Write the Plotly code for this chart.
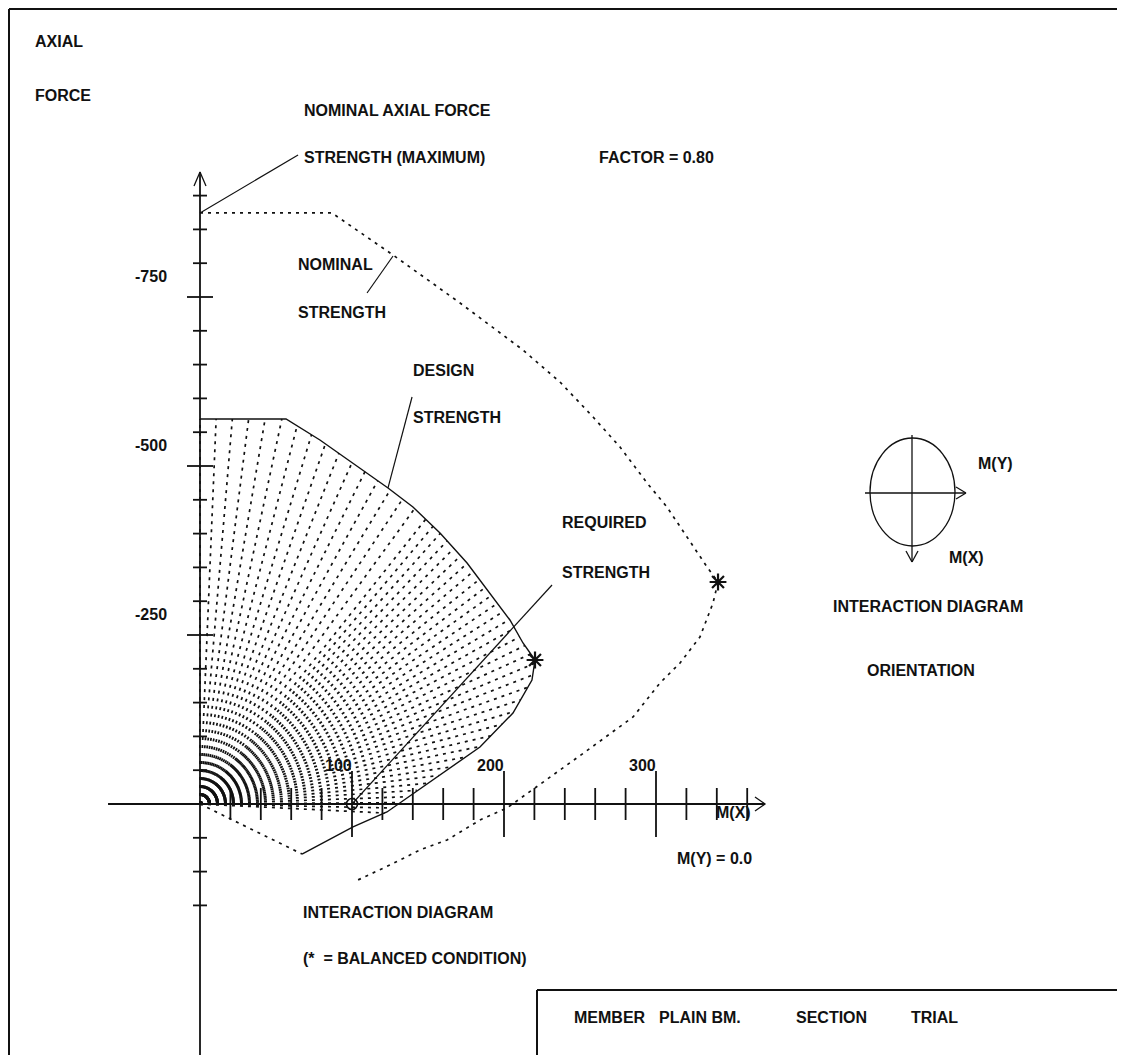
"""Column interaction diagram (axial force vs. moment) redrawn with Plotly.

The original is an old DOS-style plot: a cross of hand-drawn axes, a dotted
nominal-strength envelope, a solid design-strength envelope filled with a fan
of dashed rays, and a few leader-line labels around it.
"""

from __future__ import annotations

import numpy as np
import plotly.graph_objects as go

# Page geometry (pixels). The browser puts an 8 px body margin round the figure,
# so all page positions below are shifted by PAGE_MARGIN when drawn.
PAGE_WIDTH = 1125
PAGE_HEIGHT = 1055
PAGE_MARGIN = 8
FIG_WIDTH = PAGE_WIDTH - PAGE_MARGIN
FIG_HEIGHT = PAGE_HEIGHT - PAGE_MARGIN
ORIGIN_PX = (200, 804)  # page position of M = 0, P = 0
PX_PER_M = 1.52  # horizontal pixels per unit of moment
PX_PER_P = 0.676  # vertical pixels per unit of axial force

# Nominal strength envelope (dotted). P is negative in compression (plotted upward).
NOMINAL_M = [0.0, 86.8, 127.0, 171.1, 212.5, 236.8, 258.6, 276.3, 294.1, 307.2,
             320.4, 333.6, 340.8, 337.5, 328.9, 315.8, 302.6, 284.9, 253.3, 218.4,
             202.0, 184.2, 162.5, 144.7, 125.0, 103.9]
NOMINAL_P = [-874.3, -874.3, -812.1, -741.1, -671.6, -624.3, -572.5, -528.1, -474.9,
             -439.3, -395.0, -350.6, -328.4, -297.3, -247.0, -208.6, -179.0, -128.7,
             -76.9, -20.7, 5.9, 23.7, 53.3, 68.0, 90.2, 112.4]
NOMINAL_BALANCED_M = [340.8]
NOMINAL_BALANCED_P = [-328.4]

# Design strength envelope (solid, factor 0.80 cap on the top).
DESIGN_M = [0.0, 56.6, 78.9, 100.7, 123.7, 140.1, 157.9, 175.7, 190.8, 203.9, 212.5,
            220.4, 218.4, 205.9, 184.2, 162.5, 140.1, 123.0, 100.7, 67.1]
DESIGN_P = [-569.5, -569.5, -538.5, -504.4, -467.5, -439.3, -400.9, -356.5, -312.1,
            -272.2, -238.2, -213.0, -183.4, -134.6, -84.3, -50.3, -16.3, 11.8, 34.0,
            74.0]
DESIGN_BALANCED_M = [220.4]
DESIGN_BALANCED_P = [-213.0]

# Required strength (load point).
REQUIRED_M = [100.0]
REQUIRED_P = [0.0]

# Axis ticks.
X_TICKS = list(range(20, 361, 20))
X_MAJOR = [100, 200, 300]
X_TICK_LABELS = ["100", "200", "300"]
Y_TICKS = [v for v in range(150, -901, -50) if v != 0]
Y_MAJOR = [-250, -500, -750]
Y_TICK_LABELS = ["-250", "-500", "-750"]

# Axis extents (data units).
X_AXIS_SPAN = (-60.5, 371.7)
Y_AXIS_SPAN = (380.0, -935.0)

# Hatch fan inside the design envelope: bands of (start deg, stop deg, step deg)
# in screen angles, sparser near the vertical, plus one ray to the tension end.
RAY_BANDS = [(90.0, 50.0, 2.4), (50.0, -3.5, 1.6)]

FONT = dict(family="Arial, Liberation Sans, sans-serif", size=16, color="#111111", weight="bold")

# Free text of the drawing: (text, left px, centre y px) on the page.
LABELS = [
    ("AXIAL", 33, 42),
    ("FORCE", 33, 95),
    ("NOMINAL AXIAL FORCE", 302, 111),
    ("STRENGTH (MAXIMUM)", 302, 157),
    ("FACTOR = 0.80", 597, 157),
    ("NOMINAL", 296, 264),
    ("STRENGTH", 296, 313),
    ("DESIGN", 411, 370),
    ("STRENGTH", 411, 418),
    ("REQUIRED", 560, 522),
    ("STRENGTH", 560, 572),
    ("M(Y)", 976, 463),
    ("M(X)", 947, 557),
    ("INTERACTION DIAGRAM", 831, 606),
    ("ORIENTATION", 865, 670),
    ("M(X)", 714, 812),
    ("M(Y) = 0.0", 675, 858),
    ("INTERACTION DIAGRAM", 301, 912),
    ("(*  = BALANCED CONDITION)", 301, 958),
    ("MEMBER", 572, 1017),
    ("PLAIN BM.", 657, 1017),
    ("SECTION", 794, 1017),
    ("TRIAL", 909, 1017),
]


def _paper(x_px: float, y_px: float) -> tuple[float, float]:
    """Convert page pixels to paper fractions of the figure."""
    return (x_px - PAGE_MARGIN) / FIG_WIDTH, 1 - (y_px - PAGE_MARGIN) / FIG_HEIGHT


def _ray_hit(u: np.ndarray, v: np.ndarray, ang: float) -> float | None:
    """Distance along a ray from the origin to the first crossing of the polyline."""
    d0, d1 = np.cos(ang), np.sin(ang)
    best = None
    for i in range(len(u) - 1):
        a0, a1 = u[i], v[i]
        e0, e1 = u[i + 1] - a0, v[i + 1] - a1
        det = -d0 * e1 + e0 * d1
        if abs(det) < 1e-12:
            continue
        t = (-a0 * e1 + e0 * a1) / det
        s = (d0 * a1 - d1 * a0) / det
        if t > 0 and -1e-9 <= s <= 1 + 1e-9 and (best is None or t < best):
            best = t
    return best


def _fan_rays(m: list[float], p: list[float]) -> list[tuple[float, float]]:
    """End points of the hatch rays on the envelope, in data units."""
    u = np.asarray(m) * PX_PER_M
    v = -np.asarray(p) * PX_PER_P
    degs: list[float] = []
    for start, stop, step in RAY_BANDS:
        for d in np.arange(start, stop - 1e-9, -step):
            if not degs or abs(degs[-1] - d) > 1e-6:
                degs.append(float(d))
    angles = list(np.deg2rad(degs))
    angles.append(np.arctan2(v[-1], u[-1]))
    out = []
    for ang in angles:
        t = _ray_hit(u, v, ang)
        if t is not None:
            out.append((t * np.cos(ang) / PX_PER_M, -t * np.sin(ang) / PX_PER_P))
    return out


def _segments(pairs):
    xs, ys = [], []
    for (x0, y0), (x1, y1) in pairs:
        xs += [x0, x1, None]
        ys += [y0, y1, None]
    return xs, ys


def build_figure() -> go.Figure:
    fig = go.Figure()
    black = "#111111"

    # Fan of dashed rays filling the design envelope (each its own path so the
    # dash pattern restarts at the origin and lines up into arcs).
    for m_end, p_end in _fan_rays(DESIGN_M, DESIGN_P):
        fig.add_scatter(x=[0, m_end], y=[0, p_end], mode="lines",
                        line=dict(color=black, width=1.7, dash="3px,5px"),
                        hoverinfo="skip", showlegend=False)

    # Envelopes.
    fig.add_scatter(x=DESIGN_M, y=DESIGN_P, mode="lines",
                    line=dict(color=black, width=1.4), hoverinfo="skip", showlegend=False)
    fig.add_scatter(x=NOMINAL_M, y=NOMINAL_P, mode="lines",
                    line=dict(color=black, width=1.7, dash="3px,5px"),
                    hoverinfo="skip", showlegend=False)

    # Axes.
    fig.add_scatter(x=list(X_AXIS_SPAN), y=[0, 0], mode="lines",
                    line=dict(color=black, width=1.8), hoverinfo="skip", showlegend=False)
    fig.add_scatter(x=[0, 0], y=list(Y_AXIS_SPAN), mode="lines",
                    line=dict(color=black, width=1.8), hoverinfo="skip", showlegend=False)

    # Arrow heads at the axis ends.
    ax_m, ay_p = X_AXIS_SPAN[1], Y_AXIS_SPAN[1]
    hx, hy = 10 / PX_PER_M, 7 / PX_PER_P
    fig.add_scatter(x=[ax_m - hx, ax_m, ax_m - hx], y=[-hy, 0, hy], mode="lines",
                    line=dict(color=black, width=1.3), hoverinfo="skip", showlegend=False)
    vx, vy = 6 / PX_PER_M, 14 / PX_PER_P
    fig.add_scatter(x=[-vx, 0, vx], y=[ay_p + vy, ay_p, ay_p + vy], mode="lines",
                    line=dict(color=black, width=1.3), hoverinfo="skip", showlegend=False)

    # Tick marks.
    ticks = []
    for m in X_TICKS:
        half = (33 if m in X_MAJOR else 16) / PX_PER_P
        ticks.append(((m, -half), (m, half)))
    for p in Y_TICKS:
        half = (13 if p in Y_MAJOR else 7) / PX_PER_M
        ticks.append(((-half, p), (half, p)))
    tx, ty = _segments(ticks)
    fig.add_scatter(x=tx, y=ty, mode="lines", line=dict(color=black, width=1.8),
                    hoverinfo="skip", showlegend=False)

    # Leader lines from labels to the curves.
    leaders = [
        ((NOMINAL_M[0], NOMINAL_P[0]), (64.5, -960.1)),
        ((127.0, -810.7), (109.9, -755.9)),
        ((123.7, -467.5), (139.5, -602.1)),
        ((REQUIRED_M[0], REQUIRED_P[0]), (231.6, -324.0)),
    ]
    lx, ly = _segments(leaders)
    fig.add_scatter(x=lx, y=ly, mode="lines", line=dict(color=black, width=1.2),
                    hoverinfo="skip", showlegend=False)

    # Balanced-condition stars and the required-strength point.
    fig.add_scatter(x=DESIGN_BALANCED_M + NOMINAL_BALANCED_M,
                    y=DESIGN_BALANCED_P + NOMINAL_BALANCED_P, mode="markers",
                    marker=dict(symbol="asterisk-open", size=14, color=black,
                                line=dict(color=black, width=2.2)),
                    hoverinfo="skip", showlegend=False)
    fig.add_scatter(x=REQUIRED_M, y=REQUIRED_P, mode="markers",
                    marker=dict(symbol="circle-open", size=11, color=black,
                                line=dict(color=black, width=1.6)),
                    hoverinfo="skip", showlegend=False)

    annotations = []
    for m, text in zip(X_MAJOR, X_TICK_LABELS):
        annotations.append(dict(x=m, y=0, xref="x", yref="y", text=text, showarrow=False,
                                xanchor="right", yanchor="middle", xshift=2, yshift=39,
                                font=FONT))
    for p, text in zip(Y_MAJOR, Y_TICK_LABELS):
        annotations.append(dict(x=0, y=p, xref="x", yref="y", text=text, showarrow=False,
                                xanchor="center", yanchor="middle", xshift=-49, yshift=21,
                                font=FONT))
    for text, x_px, y_px in LABELS:
        xp, yp = _paper(x_px, y_px)
        annotations.append(dict(x=xp, y=yp, xref="paper", yref="paper", text=text,
                                showarrow=False, xanchor="left", yanchor="middle", font=FONT))

    def line_shape(x0, y0, x1, y1, width=1.5):
        a, b = _paper(x0, y0)
        c, d = _paper(x1, y1)
        return dict(type="line", xref="paper", yref="paper", x0=a, y0=b, x1=c, y1=d,
                    line=dict(color=black, width=width))

    ex0, ey0 = _paper(870, 438)
    ex1, ey1 = _paper(955, 546)
    edge = PAGE_MARGIN + 1
    shapes = [
        # page border and title block
        line_shape(edge, edge, 1121, edge, 2), line_shape(edge, edge, edge, 1060, 2),
        line_shape(1121, edge, 1121, 990, 2),
        line_shape(537, 990, 1125, 990, 2), line_shape(537, 990, 537, 1060, 2),
        # orientation sketch
        dict(type="circle", xref="paper", yref="paper", x0=ex0, y0=ey0, x1=ex1, y1=ey1,
             line=dict(color=black, width=1.3)),
        line_shape(865, 493, 965, 493, 1.3), line_shape(956, 487, 966, 493, 1.3),
        line_shape(956, 499, 966, 493, 1.3),
        line_shape(912, 435, 912, 562, 1.3), line_shape(906, 551, 912, 562, 1.3),
        line_shape(918, 551, 912, 562, 1.3),
    ]

    x_range = [-(ORIGIN_PX[0] - PAGE_MARGIN) / PX_PER_M, (PAGE_WIDTH - ORIGIN_PX[0]) / PX_PER_M]
    y_range = [(PAGE_HEIGHT - ORIGIN_PX[1]) / PX_PER_P, -(ORIGIN_PX[1] - PAGE_MARGIN) / PX_PER_P]
    fig.update_layout(
        width=FIG_WIDTH,
        height=FIG_HEIGHT,
        margin=dict(l=0, r=0, t=0, b=0),
        paper_bgcolor="white",
        plot_bgcolor="white",
        xaxis=dict(range=x_range, visible=False, fixedrange=True),
        yaxis=dict(range=y_range, visible=False, fixedrange=True),
        annotations=annotations,
        shapes=shapes,
        showlegend=False,
    )
    return fig


fig = build_figure()
fig.write_html("out.html")
